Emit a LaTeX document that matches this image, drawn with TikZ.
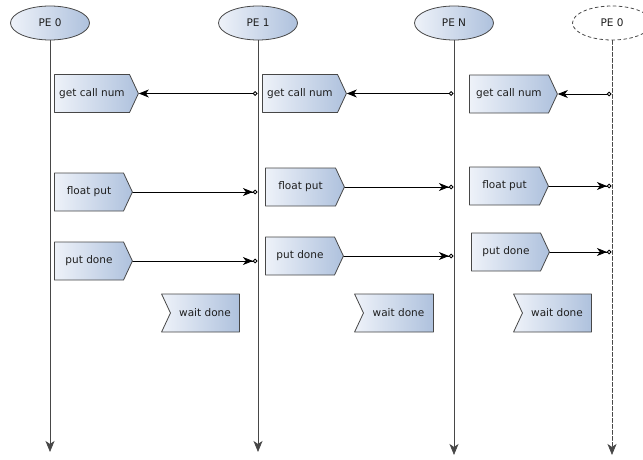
\documentclass[tikz,border=0pt]{standalone}
\usepackage{fontspec}
\setmainfont{DejaVu Sans}
\usetikzlibrary{arrows.meta,shapes.geometric,shapes.symbols}

\definecolor{lineGray}{HTML}{474747}
\definecolor{fillL}{HTML}{EEF2F9}
\definecolor{fillR}{HTML}{AEC1DD}
\definecolor{textDark}{HTML}{1E1E1E}

\begin{document}
\begin{tikzpicture}[x=1pt, y=-1pt, line cap=round, line join=round]

% ---------------- styles ----------------
\tikzset{
  pe/.style     ={ellipse, draw=lineGray, line width=0.8pt, left color=fillL, right color=fillR,
                  minimum width=79pt, minimum height=34pt, inner sep=0pt, text=textDark,
                  font=\fontsize{10.5}{12}\selectfont},
  peghost/.style={pe, dashed, fill=white, left color=white, right color=white},
  call/.style   ={signal, signal to=east, signal pointer angle=130, draw=lineGray, line width=0.8pt,
                  left color=fillL, right color=fillR, minimum height=38pt, inner sep=0pt,
                  text=textDark, font=\fontsize{10.5}{12}\selectfont, anchor=west},
  wait/.style   ={call, signal to=nowhere, signal from=west},
  life/.style   ={draw=lineGray, line width=0.8pt, -{Stealth[length=11pt, width=9pt, inset=3pt]}},
  lifeghost/.style={life, dash pattern=on 4pt off 2pt},
  msgget/.style ={draw=black, line width=0.8pt, shorten <=0.6pt,
                  {Circle[open, length=4.5pt]}-{Stealth[length=10pt, width=8pt, inset=3pt]}},
  msgput/.style ={draw=black, line width=0.8pt, shorten >=0.6pt,
                  -{Stealth[length=10pt, width=8pt, inset=3pt] Circle[open, length=4.5pt]}}
}

% ---------------- parameters ----------------
\def\yHead{23}     % centre of the PE ellipses
\def\yEnd{452}     % lifeline end

\useasboundingbox (0,0) rectangle (643,460);

% ---------------- processing elements ----------------
\node[pe]      (pe0)  at (50,\yHead)  {PE 0};
\node[pe]      (pe1)  at (258,\yHead) {PE 1};
\node[pe]      (peN)  at (454,\yHead) {PE N};
\node[peghost] (pe0b) at (612,\yHead) {PE 0};

\coordinate (pe0End)  at (50,\yEnd);
\coordinate (pe1End)  at (258,\yEnd);
\coordinate (peNEnd)  at (454,\yEnd+3);
\coordinate (pe0bEnd) at (612,\yEnd+3);

\draw[life]      (pe0.south)  -- (pe0End);
\draw[life]      (pe1.south)  -- (pe1End);
\draw[life]      (peN.south)  -- (peNEnd);
\draw[lifeghost] (pe0b.south) -- (pe0bEnd);

% ---------------- get call num ----------------
\node[call, minimum width=84pt] (getA) at (54,93.5)  {get call num};
\node[call, minimum width=84pt] (getB) at (262,93.5) {get call num};
\node[call, minimum width=88pt] (getC) at (469,94)   {get call num};

\draw[msgget] (getA.east -| pe1.south)  -- (getA.east);
\draw[msgget] (getB.east -| peN.south)  -- (getB.east);
\draw[msgget] (getC.east -| pe0b.south) -- (getC.east);

% ---------------- float put ----------------
\node[call, minimum width=78pt] (floatA) at (54,192)  {float put};
\node[call, minimum width=79pt] (floatB) at (265,187) {float put};
\node[call, minimum width=79pt] (floatC) at (469,186) {float put};

\draw[msgput] (floatA.east) -- (floatA.east -| pe1.south);
\draw[msgput] (floatB.east) -- (floatB.east -| peN.south);
\draw[msgput] (floatC.east) -- (floatC.east -| pe0b.south);

% ---------------- put done ----------------
\node[call, minimum width=78pt] (doneA) at (54,261)   {put done};
\node[call, minimum width=78pt] (doneB) at (265,256)  {put done};
\node[call, minimum width=78pt] (doneC) at (471,252) {put done};

\draw[msgput] (doneA.east) -- (doneA.east -| pe1.south);
\draw[msgput] (doneB.east) -- (doneB.east -| peN.south);
\draw[msgput] (doneC.east) -- (doneC.east -| pe0b.south);

% ---------------- wait done ----------------
\node[wait, minimum width=78pt] (waitA) at (170,313) {wait done};
\node[wait, minimum width=79pt] (waitB) at (363,313) {wait done};
\node[wait, minimum width=78pt] (waitC) at (522,313) {wait done};

\end{tikzpicture}
\end{document}
